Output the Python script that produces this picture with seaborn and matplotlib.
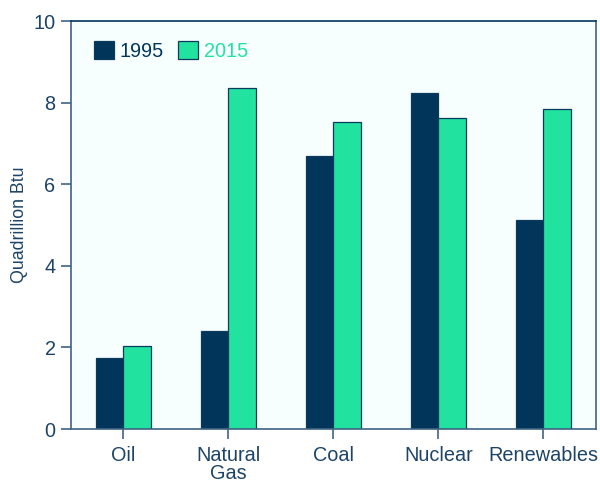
import matplotlib
matplotlib.use("Agg")
import matplotlib.pyplot as plt
import seaborn as sns
import pandas as pd

categories = ["Oil", "Natural\nGas", "Coal", "Nuclear", "Renewables"]
years = ["1995", "2015"]
values_1995 = [1.75, 2.40, 6.69, 8.24, 5.12]
values_2015 = [2.04, 8.36, 7.52, 7.63, 7.84]

navy = "#02355a"
green = "#22e2a0"
text_col = "#1d4466"
spine_col = "#3f6482"

df = pd.DataFrame({
    "source": categories * 2,
    "year": [years[0]] * len(categories) + [years[1]] * len(categories),
    "value": values_1995 + values_2015,
})

sns.set_theme(style="ticks")
plt.rcParams["font.family"] = ["Liberation Sans", "DejaVu Sans"]

fig = plt.figure(figsize=(6.0, 4.84), dpi=100)
ax = fig.add_axes([0.118, 0.1136, 0.875, 0.843])
ax.set_facecolor("#f6fefe")

sns.barplot(data=df, x="source", y="value", hue="year", order=categories,
            hue_order=years, palette=[navy, green], saturation=1, width=0.52,
            edgecolor="#0a3a5c", linewidth=0.9, ax=ax)

ax.set_xlim(-0.5, 4.5)
ax.set_ylim(0, 10)
ax.set_yticks([0, 2, 4, 6, 8, 10])
ax.set_xlabel("")
ax.set_ylabel("Quadrillion Btu", fontsize=12.8, color=text_col, labelpad=4)

for side in ["left", "bottom", "top", "right"]:
    ax.spines[side].set_visible(True)
    ax.spines[side].set_color(spine_col)
    ax.spines[side].set_linewidth(1.2)
ax.spines["top"].set_color(navy)

ax.tick_params(axis="both", direction="out", length=7, width=1.2,
               color=spine_col, labelcolor=text_col, labelsize=14.3)
ax.tick_params(axis="y", pad=4)
ax.tick_params(axis="x", pad=5)
for lbl in ax.get_xticklabels():
    lbl.set_linespacing(0.95)

leg = ax.legend(loc="upper left", ncol=2, frameon=False, fontsize=14.3,
                bbox_to_anchor=(0.01, 0.995), handlelength=1.0, handleheight=1.0,
                handletextpad=0.3, columnspacing=0.7)
for txt, col in zip(leg.get_texts(), [navy, green]):
    txt.set_color(col)

fig.savefig("out.png", dpi=100)
